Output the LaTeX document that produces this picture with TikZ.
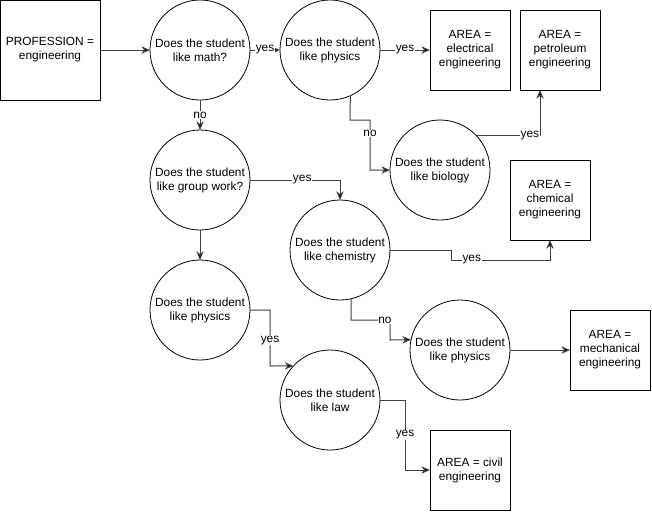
\documentclass[tikz,border=0pt]{standalone}
\usepackage{fontspec}
\setmainfont{Liberation Sans}
\usetikzlibrary{arrows.meta,calc}
\newcommand{\fs}{\fontsize{8.9}{10.5}\selectfont}
\tikzset{
  box/.style={draw, line width=0.75pt, minimum width=60pt, minimum height=60pt, inner sep=0pt, outer sep=0pt, align=center, font=\fs},
  bigbox/.style={box, minimum width=75pt, minimum height=75pt},
  qcirc/.style={draw, line width=0.6pt, circle, minimum size=75pt, inner sep=0pt, outer sep=0pt, align=center, font=\fs},
  conn/.style={draw=black!75, line width=0.75pt, -{Stealth[length=6.5pt,width=5.5pt,inset=2pt,fill=black]}},
  lbl/.style={fill=white, inner sep=0.5pt, font=\fs}
}
\begin{document}
\begin{tikzpicture}[x=0.75pt,y=-0.75pt]
\useasboundingbox (0,0) rectangle (652,512);
% nodes
\node[bigbox] (prof) at (50,50) {PROFESSION =\\engineering};
\node[qcirc] (math) at (200,50) {Does the student\\like math?};
\node[qcirc] (phys1) at (330,50) {Does the student\\like physics};
\node[box] (elec) at (470,50) {AREA =\\electrical\\engineering};
\node[box] (petro) at (560,50) {AREA =\\petroleum\\engineering};
\node[qcirc] (bio) at (440,170) {Does the student\\like biology};
\node[box] (chemical) at (550,200) {AREA =\\chemical\\engineering};
\node[qcirc] (grp) at (200,180) {Does the student\\like group work?};
\node[qcirc] (chem) at (340,250) {Does the student\\like chemistry};
\node[qcirc] (phys2) at (200,310) {Does the student\\like physics};
\node[qcirc] (phys3) at (460,350) {Does the student\\like physics};
\node[box] (mech) at (610,350) {AREA =\\mechanical\\engineering};
\node[qcirc] (law) at (330,400) {Does the student\\like law};
\node[box] (civil) at (470,470) {AREA = civil\\engineering};
% connectors
\draw[conn] (prof.east) -- (math.west);
\draw[conn] (math.east) -- node[lbl]{yes} (phys1.west);
\draw[conn] (phys1.east) -- node[lbl]{yes} (elec.west);
\draw[conn] (phys1.-66.4) -- (350,120) -- (370,120) -- node[lbl,pos=0.27]{no} (370,170) -- (bio.west);
\draw[conn] (bio.43) -| node[lbl,pos=0.42]{yes} ([xshift=-15pt]petro.south);
\draw[conn] (math.south) -- node[lbl]{no} (grp.north);
\draw[conn] (grp.east) -| node[lbl,pos=0.29]{yes} (chem.north);
\draw[conn] (grp.south) -- (phys2.north);
\draw[conn] (chem.east) -- (451,250) -- (451,260) -- node[lbl,pos=0.21]{yes} (550,260) -- (chemical.south);
\draw[conn] (chem.-77.3) -- (351,320) -- node[lbl,pos=0.87]{no} (390,320) -- (390,340) -- (phys3.168.5);
\draw[conn] (phys3.east) -- (mech.west);
\draw[conn] (phys2.east) -- (270,310) -- node[lbl,pos=0.54]{yes} (270,366) -- (law.137);
\draw[conn] (law.east) -- (405,400) -- node[lbl]{yes} (405,470) -- (civil.west);
\end{tikzpicture}
\end{document}
